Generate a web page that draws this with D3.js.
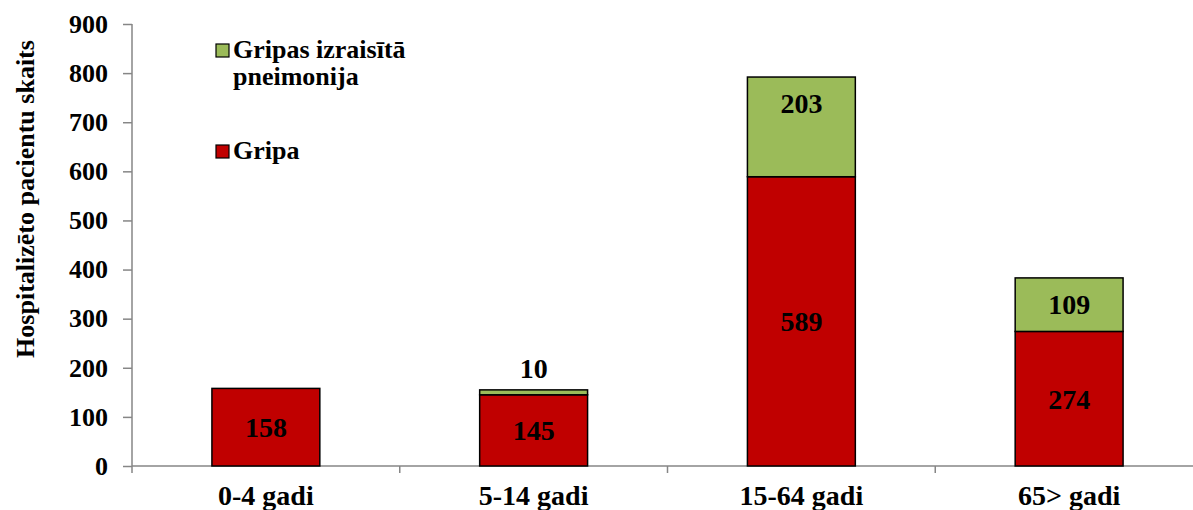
<!DOCTYPE html>
<html><head><meta charset="utf-8">
<script src="https://cdn.jsdelivr.net/npm/d3@7"></script>
<style>body{margin:0;background:#fff}svg{display:block}text{font-family:"Liberation Serif","Times New Roman",serif;font-weight:bold}</style>
</head><body>
<script>
const categories = ["0-4 gadi","5-14 gadi","15-64 gadi","65> gadi"];
const gripa = [158,145,589,274];
const pneimonija = [0,10,203,109];
const yTicks = [0,100,200,300,400,500,600,700,800,900];
const seriesNames = ["Gripas izraisītā pneimonija","Gripa"];
const pneiLabelPos = [null,"above","top","center"];

const W=1193,H=510;
const svg=d3.select("body").append("svg").attr("width",W).attr("height",H);
const x=d3.scaleBand().domain(categories).range([132,1203]).paddingInner(0.597).paddingOuter(0.2985);
const y=d3.scaleLinear().domain([0,900]).range([466,24]);
const red="#C00000",green="#9BBB59";

// axes
const ya=svg.append("g").attr("transform","translate(132,0)")
 .call(d3.axisLeft(y).tickValues(yTicks).tickSize(9).tickPadding(15));
ya.selectAll("path,line").attr("stroke","#868686").attr("stroke-width",1.5);
ya.select(".domain").attr("d","M0,"+y(0)+"V"+y(900));
ya.selectAll("text").attr("font-size",26).attr("fill","#000").attr("font-family","Liberation Serif").attr("font-weight","bold");

const xa=svg.append("g").attr("transform","translate(0,"+y(0)+")");
xa.append("line").attr("x1",132).attr("x2",1203).attr("stroke","#868686").attr("stroke-width",1.5);
const step=x.step();
xa.selectAll("line.t").data(d3.range(categories.length+1)).join("line").attr("class","t")
 .attr("x1",i=>132+i*step).attr("x2",i=>132+i*step).attr("y1",0).attr("y2",7)
 .attr("stroke","#868686").attr("stroke-width",1.5);
xa.selectAll("text").data(categories).join("text")
 .attr("x",d=>x(d)+x.bandwidth()/2).attr("y",39).attr("text-anchor","middle")
 .attr("font-size",28).text(d=>d);

// y title
svg.append("text").attr("transform","translate(34,199) rotate(-90)").attr("text-anchor","middle")
 .attr("font-size",26).text("Hospitalizēto pacientu skaits");

// bars
const g=svg.append("g");
categories.forEach((c,i)=>{
  const bx=x(c),bw=x.bandwidth();
  g.append("rect").attr("x",bx).attr("width",bw).attr("y",y(gripa[i])).attr("height",y(0)-y(gripa[i]))
   .attr("fill",red).attr("stroke","#000").attr("stroke-width",1.5);
  if(pneimonija[i]>0){
    const top=gripa[i]+pneimonija[i];
    g.append("rect").attr("x",bx).attr("width",bw).attr("y",y(top)).attr("height",y(gripa[i])-y(top))
     .attr("fill",green).attr("stroke","#000").attr("stroke-width",1.5);
  }
});
// labels
categories.forEach((c,i)=>{
  const cx=x(c)+x.bandwidth()/2;
  g.append("text").attr("x",cx).attr("y",(y(0)+y(gripa[i]))/2).attr("dy","0.35em")
   .attr("text-anchor","middle").attr("font-size",28).text(gripa[i]);
  if(pneimonija[i]>0){
    const top=gripa[i]+pneimonija[i];
    let ly;
    if(pneiLabelPos[i]==="above") ly=y(top)-22;
    else if(pneiLabelPos[i]==="top") ly=y(top)+26;
    else ly=(y(top)+y(gripa[i]))/2;
    g.append("text").attr("x",cx).attr("y",ly).attr("dy","0.35em")
     .attr("text-anchor","middle").attr("font-size",28).text(pneimonija[i]);
  }
});

// legend
const lg=svg.append("g");
lg.append("rect").attr("x",216).attr("y",44).attr("width",13).attr("height",13).attr("fill",green).attr("stroke","#000").attr("stroke-width",1.2);
lg.append("text").attr("x",233).attr("y",58).attr("font-size",26).text("Gripas izraisītā");
lg.append("text").attr("x",233).attr("y",85).attr("font-size",26).text("pneimonija");
lg.append("rect").attr("x",216).attr("y",145).attr("width",13).attr("height",13).attr("fill",red).attr("stroke","#000").attr("stroke-width",1.2);
lg.append("text").attr("x",233).attr("y",159).attr("font-size",26).text(seriesNames[1]);
</script>
</body></html>
